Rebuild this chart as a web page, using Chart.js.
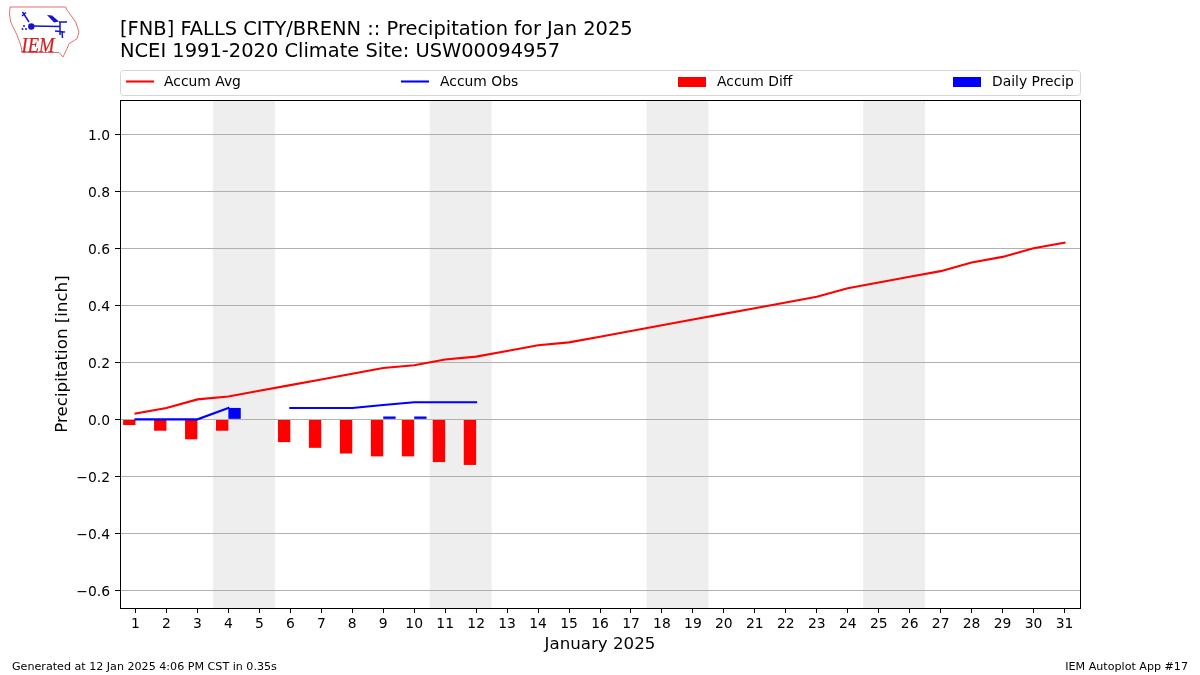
<!DOCTYPE html>
<html>
<head>
<meta charset="utf-8">
<script src="https://cdn.jsdelivr.net/npm/chart.js@4/dist/chart.umd.js"></script>
<style>
html,body{margin:0;padding:0;background:#fff;width:1200px;height:675px;overflow:hidden}
#wrap{position:absolute;left:0;top:0;width:1200px;height:675px}
canvas{display:block}
#logo{position:absolute;left:0;top:0}
.foot{position:absolute;top:660px;font:11.11px "DejaVu Sans";color:#000;white-space:nowrap}
</style>
</head>
<body>
<div id="wrap"><canvas id="c" width="1200" height="675"></canvas></div>
<svg id="logo" width="90" height="65" viewBox="0 0 90 65">
  <path d="M10 7 L65.7 7 L67 10 L75.7 22 L79 32 L77 38.7 L69 43.7 L67 48.7 L63 57 L59 52.5 L22.3 52.5 L20.7 45 L17 35 L10.7 22 L9.5 14 Z" fill="#fff" stroke="#e07070" stroke-width="1"/>
  <path d="M22.5 12 L29 22 M22 16 L26 12.5 M31 26 L60 26.5 M60 22 L60 35 M59 22 L67 22 M55 31 L65 32 M62 31 L62.5 38" stroke="#1515d0" stroke-width="1.5" fill="none"/>
  <path d="M47 15 L52 15.5 L59 21.5 L54 22.5 Z" fill="#1515d0"/>
  <circle cx="31.3" cy="26.5" r="3.2" fill="#1515d0"/>
  <circle cx="24" cy="26" r="1" fill="#1515d0"/><circle cx="22.5" cy="29" r="1" fill="#1515d0"/><circle cx="26" cy="29" r="1" fill="#1515d0"/>
  <text x="21.5" y="51.5" font-family="Liberation Serif" font-style="italic" font-size="22" textLength="33" lengthAdjust="spacingAndGlyphs" fill="#d02020" stroke="#d02020" stroke-width="0.25">IEM</text>
</svg>
<div class="foot" style="left:12px">Generated at 12 Jan 2025 4:06 PM CST in 0.35s</div>
<div class="foot" style="right:12px">IEM Autoplot App #17</div>
<script>
const days = [1,2,3,4,5,6,7,8,9,10,11,12,13,14,15,16,17,18,19,20,21,22,23,24,25,26,27,28,29,30,31];
const accumAvg = [0.02,0.04,0.07,0.08,0.10,0.12,0.14,0.16,0.18,0.19,0.21,0.22,0.24,0.26,0.27,0.29,0.31,0.33,0.35,0.37,0.39,0.41,0.43,0.46,0.48,0.50,0.52,0.55,0.57,0.60,0.62];
const accumObs = [0,0,0,0.04,null,0.04,0.04,0.04,0.05,0.06,0.06,0.06];
const accumDiff = [-0.02,-0.04,-0.07,-0.04,null,-0.08,-0.10,-0.12,-0.13,-0.13,-0.15,-0.16];
const dailyPrecip = [0,0,0,0.04,null,0,0,0,0.01,0.01,0,0];
const weekends = [[3.5,5.5],[10.5,12.5],[17.5,19.5],[24.5,26.5]];
const yTicks = [-0.6,-0.4,-0.2,0,0.2,0.4,0.6,0.8,1.0];
const titleLines = ["[FNB] FALLS CITY/BRENN :: Precipitation for Jan 2025","NCEI 1991-2020 Climate Site: USW00094957"];
const xTitle = "January 2025";
const yTitle = "Precipitation [inch]";
const FONT = '"DejaVu Sans"';
const GRID = '#b0b0b0';
const toXY = arr => arr.map((v,i)=>({x:days[i],y:v}));

const shade = {
  id:'shade',
  beforeDraw(ch){
    const {ctx,chartArea:a,scales:{x}} = ch;
    ctx.save();
    ctx.fillStyle='#eeeeee';
    weekends.forEach(([s,e])=>{
      const l=x.getPixelForValue(s), r=x.getPixelForValue(e);
      ctx.fillRect(l,a.top,r-l,a.bottom-a.top);
    });
    ctx.restore();
  }
};
/* the zero gridline sits above the bars but below the lines */
const zeroLine = {
  id:'zeroLine',
  afterDatasetDraw(ch,args){
    if(args.index!==2) return;
    const {ctx,chartArea:a,scales:{y}} = ch;
    const p=Math.floor(y.getPixelForValue(0))+0.5;
    ctx.save();
    ctx.strokeStyle=GRID;ctx.lineWidth=1;
    ctx.beginPath();ctx.moveTo(a.left,p);ctx.lineTo(a.right,p);ctx.stroke();
    ctx.restore();
  }
};
const frame = {
  id:'frame',
  afterDraw(ch){
    const {ctx,chartArea:a} = ch;
    ctx.save();
    ctx.strokeStyle='#000';ctx.lineWidth=1;
    ctx.strokeRect(Math.round(a.left)+0.5,Math.round(a.top)+0.5,Math.round(a.right-a.left),Math.round(a.bottom-a.top));
    ctx.restore();
  }
};
const legendBox = {
  id:'legendBox',
  afterDraw(ch){
    const ctx=ch.ctx;
    const handleX=[126,401,678,953];
    const textX=[164,440,717,992];
    ctx.save();
    ctx.strokeStyle='#d5d5d5';ctx.lineWidth=1;
    ctx.beginPath();ctx.roundRect(120.5,70.5,960,25,3);ctx.stroke();
    ctx.font='13.89px '+FONT;ctx.textBaseline='middle';ctx.textAlign='left';ctx.fillStyle='#000';
    ch.data.datasets.forEach((d,i)=>{
      if(d.type==='line'){
        ctx.strokeStyle=d.borderColor;ctx.lineWidth=2.08;
        ctx.beginPath();ctx.moveTo(handleX[i],81.5);ctx.lineTo(handleX[i]+28,81.5);ctx.stroke();
      }else{
        ctx.fillStyle=d.backgroundColor;
        ctx.fillRect(handleX[i],77,28,10);
      }
      ctx.fillStyle='#000';
      ctx.fillText(d.label,textX[i],82);
    });
    ctx.restore();
  }
};

new Chart(document.getElementById('c'),{
  data:{datasets:[
    {type:'line',label:'Accum Avg',data:toXY(accumAvg),borderColor:'#ff0000',borderWidth:2.08,pointRadius:0,tension:0,borderCapStyle:'square',order:1},
    {type:'line',label:'Accum Obs',data:toXY(accumObs),borderColor:'#0000ff',borderWidth:2.08,pointRadius:0,tension:0,spanGaps:false,borderCapStyle:'square',order:0},
    {type:'bar',label:'Accum Diff',data:toXY(accumDiff),backgroundColor:'#ff0000',barPercentage:1,categoryPercentage:0.8,order:2},
    {type:'bar',label:'Daily Precip',data:toXY(dailyPrecip),backgroundColor:'#0000ff',barPercentage:1,categoryPercentage:0.8,order:3}
  ]},
  options:{
    responsive:false,animation:false,
    layout:{padding:{left:53,top:19,right:120,bottom:19}},
    plugins:{
      legend:{display:false},
      tooltip:{enabled:false},
      title:{display:true,text:titleLines,align:'start',fullSize:false,color:'#000',
        font:{family:FONT,size:19.44,weight:'normal',lineHeight:1.13},padding:{top:0,bottom:37.1}}
    },
    scales:{
      x:{type:'linear',min:0.5,max:31.5,offset:false,
        afterBuildTicks(s){s.ticks=days.map(v=>({value:v}));},
        afterFit(s){s.height=48;},
        grid:{display:true,offset:false,drawOnChartArea:false,drawTicks:true,tickLength:5,tickColor:'#000',tickWidth:1},
        border:{display:false},
        ticks:{autoSkip:false,maxRotation:0,minRotation:0,padding:3,color:'#000',font:{family:FONT,size:13.89},
          callback:v=>String(v)},
        title:{display:true,text:xTitle,color:'#000',font:{family:FONT,size:16.67,weight:'normal'},padding:{top:1,bottom:1}}
      },
      y:{type:'linear',min:-0.662,max:1.1204,
        afterBuildTicks(s){s.ticks=yTicks.map(v=>({value:v}));},
        afterFit(s){s.width=67;},
        grid:{color:GRID,lineWidth:1,tickLength:5,tickColor:'#000',tickWidth:1},
        border:{display:false},
        ticks:{padding:5,labelOffset:1.7,color:'#000',font:{family:FONT,size:13.89},
          callback:v=>(v<0?'\u2212':'')+Math.abs(v).toFixed(1)},
        title:{display:true,text:yTitle,color:'#000',font:{family:FONT,size:16.67,weight:'normal'},padding:{top:0,bottom:4}}
      }
    }
  },
  plugins:[shade,zeroLine,frame,legendBox]
});
</script>
</body>
</html>
